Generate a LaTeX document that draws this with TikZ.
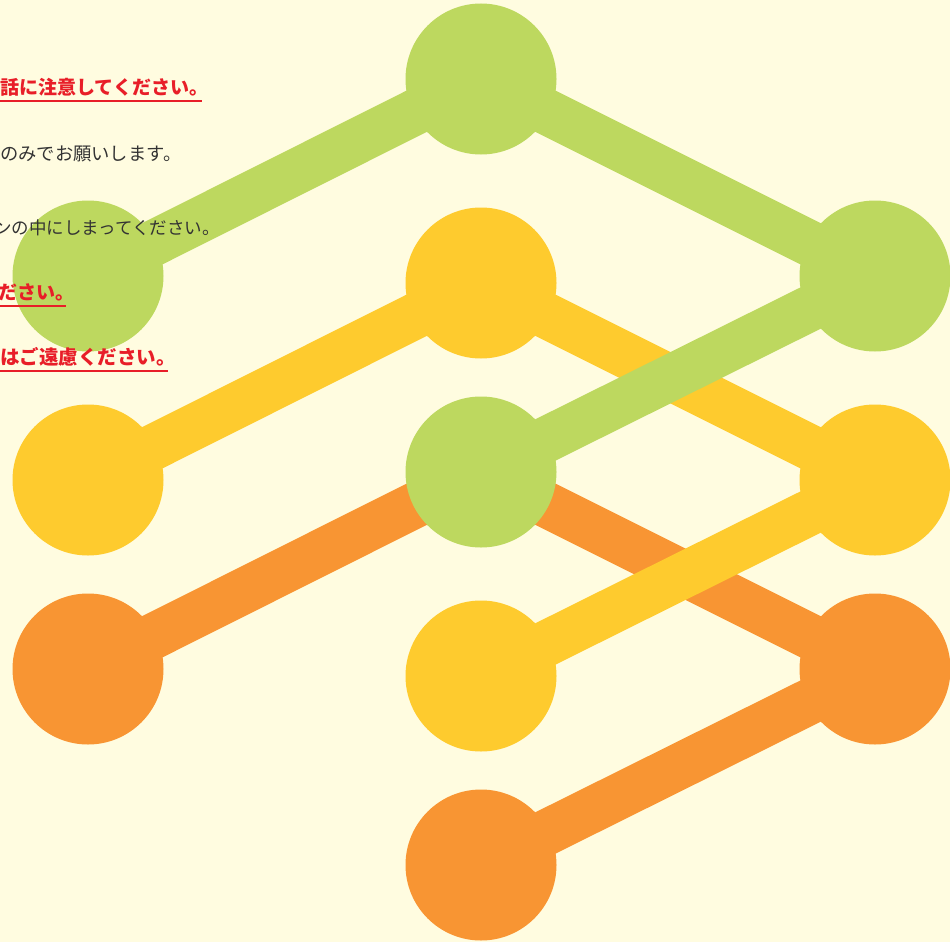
\documentclass[tikz,border=0pt]{standalone}
\usepackage{fontspec}
\setmainfont{Noto Sans CJK JP}
\definecolor{bg}{RGB}{255,252,224}
\definecolor{cgreen}{RGB}{189,216,95}
\definecolor{cyellow}{RGB}{254,203,46}
\definecolor{corange}{RGB}{248,149,51}
\definecolor{cred}{RGB}{232,30,40}
\definecolor{cdark}{RGB}{51,51,51}
\begin{document}
\begin{tikzpicture}[x=1pt,y=-1pt,
  dot/.style={circle,minimum size=151pt,inner sep=0pt},
  link/.style={line width=46pt},
  note/.style={anchor=base west,inner sep=0pt},
  warn/.style={note,text=cred},
  plain/.style={note,text=cdark},
  uline/.style={draw=cred,line width=2.5pt}]
\fill[bg] (0,0) rectangle (950,942);
\useasboundingbox (0,0) rectangle (950,942);
% orange
\node[dot,fill=corange] (o1) at (88,669) {};
\coordinate (o2) at (481,472);
\node[dot,fill=corange] (o3) at (875,669) {};
\node[dot,fill=corange] (o4) at (481,865) {};
\draw[link,corange] (o1.center) -- (o2) -- (o3.center) -- (o4.center);
% yellow
\node[dot,fill=cyellow] (y1) at (88,480) {};
\node[dot,fill=cyellow] (y2) at (481,283) {};
\node[dot,fill=cyellow] (y3) at (875,480) {};
\node[dot,fill=cyellow] (y4) at (481,676) {};
\draw[link,cyellow] (y1.center) -- (y2.center) -- (y3.center) -- (y4.center);
% green
\node[dot,fill=cgreen] (g1) at (88,276) {};
\node[dot,fill=cgreen] (g2) at (481,79) {};
\node[dot,fill=cgreen] (g3) at (875,276) {};
\node[dot,fill=cgreen] (g4) at (481,472) {};
\draw[link,cgreen] (g1.center) -- (g2.center) -- (g3.center) -- (g4.center);
% texts
\node[warn,font=\fontsize{19}{23}\selectfont\bfseries] (t1) at (0,94) {話に注意してください。};
\node[plain,font=\fontsize{18.3}{22}\selectfont] (t2) at (0,160) {のみでお願いします。};
\node[plain,font=\fontsize{17.5}{21}\selectfont] (t3) at (-6,234) {ンの中にしまってください。};
\node[warn,font=\fontsize{19}{23}\selectfont\bfseries] (t4) at (-2,299) {ださい。};
\node[warn,font=\fontsize{19.5}{23}\selectfont\bfseries] (t5) at (0,364) {はご遠慮ください。};
\coordinate (u1a) at (0,101); \coordinate (u1b) at (202,101);
\coordinate (u4a) at (0,306); \coordinate (u4b) at (66,306);
\coordinate (u5a) at (0,371); \coordinate (u5b) at (168,371);
\draw[uline] (u1a) -- (u1b);
\draw[uline] (u4a) -- (u4b);
\draw[uline] (u5a) -- (u5b);
\end{tikzpicture}
\end{document}
